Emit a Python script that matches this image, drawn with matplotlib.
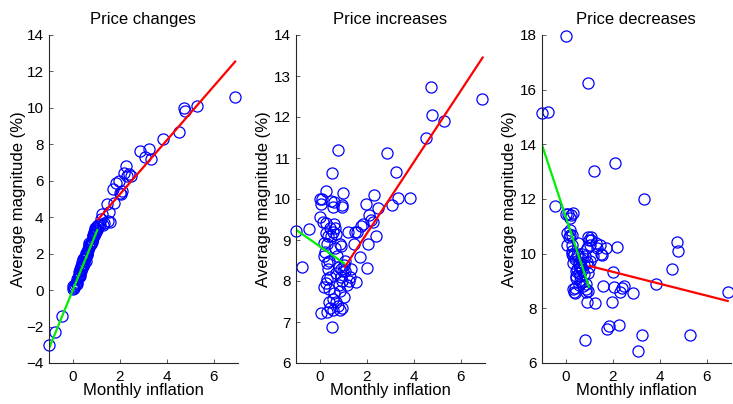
"""
average magnitude of price changes vs monthly inflation
"""
import matplotlib

matplotlib.use("Agg")
import matplotlib.pyplot as plt

plt.rcParams["font.family"] = ["Liberation Sans", "DejaVu Sans"]

# monthly inflation, one value per month (shared by the three panels)
inflation = [
    -1.00, -0.74, -0.45,
    0.79, 0.54, 0.26, 0.99, 0.09, 0.04, 0.61, 0.57, 0.94, 0.00,
    0.26, 0.60, 0.55, 0.50, 0.65, 0.26, 0.18, 0.30, 0.35, 0.87,
    0.90, 0.18, 0.30, 0.40, 0.89, 1.00, 1.10, 0.30, 0.45, 0.28,
    0.40, 0.84, 0.88, 0.18, 0.60, 0.55, 0.70, 0.80, 0.85, 0.40,
    0.04, 0.30, 0.45, 0.55, 0.54, 0.95, 1.05, 1.15, 1.10, 0.70,
    0.45, 0.65, 0.75, 0.95, 1.05, 0.35, 0.15, 0.50, 0.70, 0.25,
    0.03, 0.95, 0.81, 0.92,
    1.20, 1.25, 1.30, 1.35, 1.45, 1.50, 1.55, 1.60, 1.72, 1.75,
    1.85, 1.95, 2.00, 2.05, 2.10, 2.20, 2.25, 2.30, 2.40, 2.50,
    2.87, 3.08, 3.25, 3.35, 3.82, 4.50, 4.75, 4.77, 5.28, 6.90,
]

all_changes = [
    -3.00, -2.30, -1.40,
    2.60, 1.70, 0.85, 3.25, 0.30, 0.10, 2.00, 1.95, 3.10, 0.05,
    0.70, 2.10, 1.60, 1.45, 2.25, 1.00, 0.60, 1.10, 1.30, 2.85,
    3.20, 0.45, 0.90, 1.55, 3.00, 3.40, 3.55, 0.80, 1.70, 0.75,
    1.20, 2.70, 3.05, 0.35, 1.90, 1.85, 2.35, 2.55, 2.95, 1.40,
    0.15, 1.15, 1.45, 2.05, 1.80, 3.15, 3.30, 3.60, 3.45, 2.45,
    1.35, 2.20, 2.50, 3.30, 3.50, 1.05, 0.40, 1.75, 2.60, 0.65,
    0.25, 3.40, 2.65, 3.05,
    3.90, 4.20, 3.60, 3.70, 4.75, 3.80, 4.30, 3.75, 5.55, 4.80,
    5.90, 6.00, 5.35, 5.30, 5.45, 6.45, 6.80, 6.25, 6.35, 6.25,
    7.65, 7.32, 7.75, 7.22, 8.30, 8.68, 10.00, 9.85, 10.10, 10.62,
]

increases = [
    9.22, 8.35, 9.27,
    11.20, 10.64, 10.20, 10.15, 9.99, 9.87, 9.93, 9.81, 9.80, 9.55,
    9.41, 9.40, 9.20, 9.10, 9.30, 9.18, 8.93, 8.90, 9.10, 8.90,
    8.85, 8.60, 8.45, 8.50, 8.30, 8.25, 8.25, 8.05, 8.10, 7.95,
    7.80, 7.90, 7.75, 7.86, 7.70, 7.55, 7.50, 7.40, 7.30, 7.50,
    7.21, 7.25, 7.35, 7.30, 6.87, 7.35, 7.60, 7.90, 8.50, 8.20,
    9.30, 8.80, 8.60, 8.00, 8.40, 8.30, 9.45, 9.95, 9.15, 8.70,
    10.00, 9.85, 8.35, 8.10,
    9.20, 8.00, 8.10, 8.30, 8.90, 9.20, 7.98, 9.19, 8.59, 9.35,
    9.40, 9.88, 8.31, 8.90, 9.60, 9.50, 9.45, 10.10, 9.10, 9.77,
    11.11, 9.85, 10.65, 10.03, 10.03, 11.50, 12.72, 12.05, 11.90, 12.45,
]

decreases = [
    15.15, 15.20, 11.75,
    9.60, 9.90, 10.70, 10.50, 11.45, 10.75, 9.50, 9.30, 10.60, 11.45,
    10.00, 9.20, 9.70, 9.45, 9.80, 10.30, 10.85, 8.70, 8.60, 8.60,
    10.20, 11.30, 9.90, 8.55, 9.70, 9.50, 10.60, 9.65, 9.35, 10.10,
    8.75, 9.90, 8.90, 10.70, 9.00, 9.60, 10.00, 9.25, 8.70, 9.80,
    10.30, 11.50, 9.10, 8.85, 10.40, 9.30, 10.30, 9.90, 10.50, 9.40,
    9.20, 9.55, 8.80, 8.65, 9.75, 10.00, 10.60, 9.95, 8.95, 11.40,
    17.95, 16.23, 6.84, 8.22,
    13.03, 8.20, 10.40, 10.20, 10.30, 10.00, 9.95, 8.80, 10.20, 7.25,
    7.35, 8.25, 9.34, 8.77, 13.33, 10.23, 7.40, 8.60, 8.75, 8.80,
    8.55, 6.45, 7.02, 11.99, 8.89, 9.43, 10.44, 10.10, 7.02, 8.60,
]

# fitted segments below / above 1% inflation: (x0, x1), (y0, y1)
low_x = [[-1.0, 1.05], [-1.0, 1.04], [-1.0, 0.99]]
low_y = [[-3.2, 3.3], [9.25, 8.43], [13.98, 8.79]]
high_x = [[1.08, 6.9], [1.08, 6.92], [1.02, 6.88]]
high_y = [[3.88, 12.54], [8.35, 13.45], [9.55, 8.27]]

titles = ["Price changes", "Price increases", "Price decreases"]
ylims = [(-4, 14), (6, 14), (6, 18)]
yticks = [range(-4, 15, 2), range(6, 15, 1), range(6, 19, 2)]
lefts = [49, 296, 542]
ylab_x = [-0.12, -0.135, -0.135]

fig = plt.figure(figsize=(7.33, 4.04), dpi=100)

for i, ydata in enumerate([all_changes, increases, decreases]):
    ax = fig.add_axes([lefts[i] / 733, 41 / 404, 188.5 / 733, 328 / 404])
    ax.plot(inflation, ydata, "o", mfc="none", mec="#0000ff", ms=8, mew=0.9,
            clip_on=False)
    ax.plot(low_x[i], low_y[i], color="#00ee00", lw=1.6)
    ax.plot(high_x[i], high_y[i], color="#ff0000", lw=1.6)

    ax.set_xlim(-1, 7)
    ax.set_ylim(*ylims[i])
    ax.set_xticks([0, 2, 4, 6])
    ax.set_yticks(list(yticks[i]))
    ax.spines["top"].set_visible(False)
    ax.spines["right"].set_visible(False)
    for s in ["left", "bottom"]:
        ax.spines[s].set_color("#262626")
        ax.spines[s].set_linewidth(0.8)
    ax.tick_params(direction="in", length=3, width=0.6, color="#404040",
                   labelsize=11, labelcolor="black")
    ax.tick_params(axis="x", pad=5)
    ax.tick_params(axis="y", pad=4)

    ax.set_title(titles[i], fontsize=12, pad=8)
    ax.set_xlabel("Monthly inflation", fontsize=12)
    ax.xaxis.set_label_coords(0.5, -0.062)
    ax.set_ylabel("Average magnitude (%)", fontsize=12)
    ax.yaxis.set_label_coords(ylab_x[i], 0.5)

plt.savefig("out.png", dpi=100)
